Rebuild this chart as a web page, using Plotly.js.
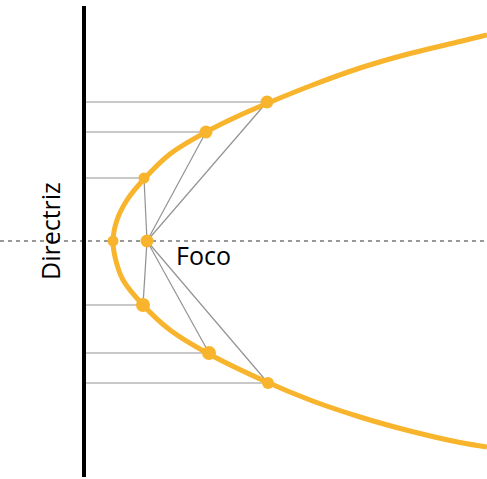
<!DOCTYPE html>
<html>
<head>
<meta charset="utf-8">
<script src="https://cdn.plot.ly/plotly-3.0.1.min.js"></script>
<style>html,body{margin:0;padding:0;background:#fff;}#chart{width:487px;height:479px;}</style>
</head>
<body>
<div id="chart"></div>
<script>
// Parabola curve (pixel-like units)
const curveX = [487, 460, 410, 360, 310, 268, 236, 206, 170, 145, 127, 117, 113, 116, 123, 143, 170, 209, 269, 310, 360, 410, 460, 487];
const curveY = [35, 41.5, 53.5, 68, 86, 103, 117, 132, 154, 178, 200, 220, 241, 261, 280, 305, 330, 354, 383, 400, 417, 431, 442.5, 447];
// Points on the parabola
const pointX = [267, 206, 144, 143, 209, 268];
const pointY = [102, 132, 178, 305, 353, 383];
// Vertex and focus
const vertex = [113, 241];
const focus = [147, 241];
// Directrix position and axis
const directrixX = 84;
const directrixY = [6, 477];
const axisY = 241;
const axisX = [0, 487];
const labels = {directrix: "Directriz", focus: "Foco"};

const traces = [];
const hx = [], hy = [], fx = [], fy = [];
pointX.forEach((x, i) => {
  hx.push(directrixX, x, null); hy.push(pointY[i], pointY[i], null);
  fx.push(focus[0], x, null); fy.push(focus[1], pointY[i], null);
});
traces.push({x: axisX, y: [axisY, axisY], mode: 'lines', line: {color: '#333', width: 1, dash: '4px,4px'}, hoverinfo: 'skip'});
traces.push({x: hx, y: hy, mode: 'lines', line: {color: '#939393', width: 1.2}, hoverinfo: 'skip'});
traces.push({x: fx, y: fy, mode: 'lines', line: {color: '#939393', width: 1.2}, hoverinfo: 'skip'});
traces.push({x: [directrixX, directrixX], y: directrixY, mode: 'lines', line: {color: '#000', width: 4}, hoverinfo: 'skip'});
traces.push({x: curveX, y: curveY, mode: 'lines', line: {color: '#F8B42C', width: 5, shape: 'spline', smoothing: 1}, hoverinfo: 'skip'});
traces.push({x: pointX.concat([vertex[0], focus[0]]), y: pointY.concat([vertex[1], focus[1]]), mode: 'markers',
  marker: {color: '#F8B42C', opacity: 1, size: [13, 13, 11, 14, 14, 12, 11, 13], line: {width: 0}}, hoverinfo: 'skip'});

const layout = {
  width: 487, height: 479,
  margin: {l: 0, r: 0, t: 0, b: 0},
  paper_bgcolor: '#fff', plot_bgcolor: '#fff',
  showlegend: false,
  xaxis: {range: [0, 487], visible: false, fixedrange: true},
  yaxis: {range: [479, 0], visible: false, fixedrange: true},
  annotations: [
    {x: 50, y: 231, xref: 'x', yref: 'y', text: labels.directrix, textangle: -90, showarrow: false,
     font: {family: 'Open Sans', size: 25, color: '#000'}},
    {x: 174, y: 255, xref: 'x', yref: 'y', text: labels.focus, showarrow: false, xanchor: 'left',
     font: {family: 'Open Sans', size: 25, color: '#000'}}
  ]
};
Plotly.newPlot('chart', traces, layout, {staticPlot: true, displayModeBar: false});
</script>
</body>
</html>
